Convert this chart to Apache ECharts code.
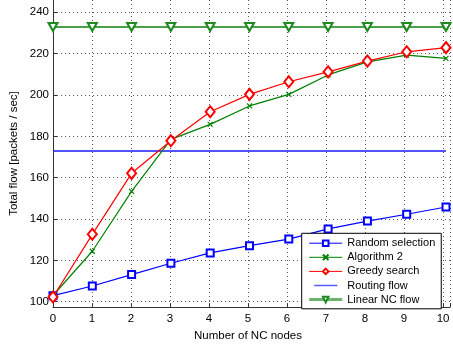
<!DOCTYPE html>
<html><head><meta charset="utf-8">
<script src="https://cdn.jsdelivr.net/npm/echarts@6/dist/echarts.min.js"></script>
<style>html,body{margin:0;padding:0;background:#fff}#c{width:453px;height:347px}</style>
</head><body><div id="c"></div>
<script>
const nodes = [0,1,2,3,4,5,6,7,8,9,10];
const randomSelection = [102.9,107.6,113.1,118.6,123.6,127.1,130.3,135.2,139.0,142.3,145.8];
const algorithm2 = [103.0,124.4,153.4,178.5,185.8,194.7,200.3,209.7,216.0,219.3,217.7];
const greedySearch = [102.3,132.6,162.1,177.9,191.9,200.3,206.4,211.2,216.4,220.9,222.9];
const routingFlow = [172.9,172.9,172.9,172.9,172.9,172.9,172.9,172.9,172.9,172.9,172.9];
const linearNCFlow = [232.9,232.9,232.9,232.9,232.9,232.9,232.9,232.9,232.9,232.9,232.9];
const yTicks = [100,120,140,160,180,200,220,240];

const pairs = arr => nodes.map((x,i)=>[x,arr[i]]);
const FONT = 'Liberation Sans, Arial, sans-serif';
const chart = echarts.init(document.getElementById('c'), null, {renderer:'canvas'});
const dotted = {show:true, lineStyle:{color:'#555', width:1, type:[1,3]}};
const axisCol = '#333';
const ppu = 289.4/140; // px per unit
const lineIcon = 'path://M0,0L0.01,0L0.01,0.01ZM0,4.1L33,4.1L33,5.9L0,5.9ZM32.99,10L33,10L33,9.99Z';
chart.setOption({
  animation:false,
  backgroundColor:'#fff',
  grid:[
    {left:53, right:0, top:0, bottom:36},
    {left:53, right:0, top:12.3, bottom:45.3}
  ],
  xAxis:[
    {gridIndex:0, type:'value', min:0, max:10+7/39.3, interval:1,
     axisLine:{show:true, onZero:false, lineStyle:{color:axisCol}},
     axisTick:{show:true, inside:true, length:4, lineStyle:{color:axisCol}},
     axisLabel:{color:'#000', fontFamily:FONT, fontSize:11.5, margin:6,
       formatter:v=>Number.isInteger(v)?String(v):''},
     splitLine:dotted,
     name:'Number of NC nodes', nameLocation:'middle', nameGap:22,
     nameTextStyle:{color:'#000', fontFamily:FONT, fontSize:11.5, padding:[0,0,0,-7]}
    },
    {gridIndex:1, type:'value', min:0, max:10+7/39.3, show:false}
  ],
  yAxis:[
    {gridIndex:0, type:'value', min:100-(311-301.7)/ppu, max:240+12.3/ppu,
     axisLine:{show:true, lineStyle:{color:axisCol}},
     axisTick:{show:false}, axisLabel:{show:false}, splitLine:{show:false},
     name:'Total flow [packets / sec]', nameLocation:'middle', nameGap:33,
     nameTextStyle:{color:'#000', fontFamily:FONT, fontSize:11.5}
    },
    {gridIndex:1, type:'value', min:yTicks[0], max:yTicks[yTicks.length-1], interval:20,
     axisLine:{show:false},
     axisTick:{show:true, inside:true, length:4, lineStyle:{color:axisCol}},
     axisLabel:{color:'#000', fontFamily:FONT, fontSize:11.5, margin:4},
     splitLine:dotted
    }
  ],
  legend:{
    orient:'vertical', left:301.7, top:233.3,
    backgroundColor:'#fff', borderColor:'#000', borderWidth:1,
    padding:[4.4,6,3.7,6], itemWidth:33, itemHeight:7, itemGap:3.1,
    lineStyle:{width:1},
    textStyle:{color:'#000', fontFamily:FONT, fontSize:11, lineHeight:10},
    data:[
      {name:'Random selection'},
      {name:'Algorithm 2'},
      {name:'Greedy search'},
      {name:'Routing flow', icon:lineIcon, itemStyle:{color:'#5a5aff', borderWidth:0}},
      {name:'Linear NC flow', lineStyle:{width:3, color:'#6db36d'}}
    ]
  },
  series:[
    {name:'Random selection', type:'line', xAxisIndex:1, yAxisIndex:1, data:pairs(randomSelection),
     symbol:'emptyRect', symbolSize:7, color:'#0000ff', lineStyle:{width:1.2},
     itemStyle:{color:'#0000ff', borderWidth:1.2}, z:3},
    {name:'Algorithm 2', type:'line', xAxisIndex:1, yAxisIndex:1, data:pairs(algorithm2),
     symbol:'path://M0,0L10,10M10,0L0,10', symbolSize:5, color:'#008000', lineStyle:{width:1.2},
     itemStyle:{color:'#008000', borderColor:'#008000', borderWidth:1.2}, z:4},
    {name:'Greedy search', type:'line', xAxisIndex:1, yAxisIndex:1, data:pairs(greedySearch),
     symbol:'emptyDiamond', symbolSize:[9,11], color:'#ff0000', lineStyle:{width:1.2},
     itemStyle:{color:'#ff0000', borderWidth:1.2}, z:5},
    {name:'Routing flow', type:'line', xAxisIndex:1, yAxisIndex:1, data:pairs(routingFlow),
     symbol:'none', color:'#1a1aff', lineStyle:{width:1.5}, z:2},
    {name:'Linear NC flow', type:'line', xAxisIndex:1, yAxisIndex:1, data:pairs(linearNCFlow),
     symbol:'emptyTriangle', symbolRotate:180, symbolSize:[9,8], color:'#3a9a3a',
     lineStyle:{width:2, color:'#4aa04a'}, itemStyle:{color:'#1f8a1f', borderColor:'#1f8a1f', borderWidth:1.2}, z:2}
  ]
});
</script></body></html>
